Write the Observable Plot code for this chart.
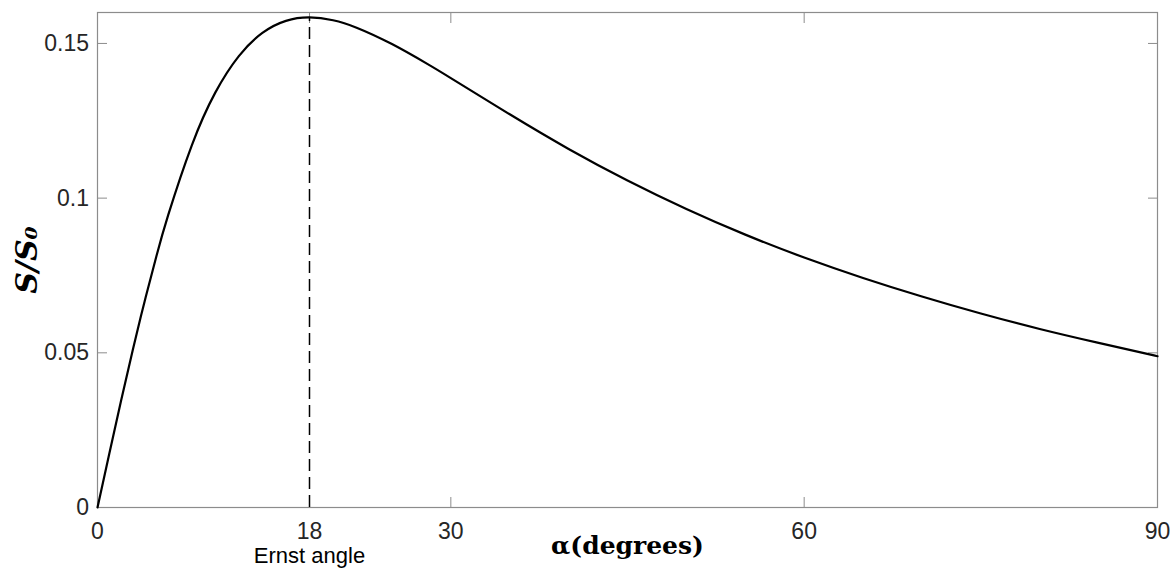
<!DOCTYPE html>
<html>
<head>
<meta charset="utf-8">
<script src="https://cdn.jsdelivr.net/npm/d3@7"></script>
<script src="https://cdn.jsdelivr.net/npm/@observablehq/plot@0.6"></script>
<style>
  html, body { margin: 0; padding: 0; background: #fff; }
  #chart svg { display: block; }
</style>
</head>
<body>
<div id="chart"></div>
<script>
// Flip angle (degrees) and normalised signal
const alphaDeg = [0, 1, 2, 3, 4, 5, 6, 8, 10, 12, 14, 16, 18, 20, 22, 25, 28, 30, 35, 40, 45, 50, 55, 60, 65, 70, 75, 80, 85, 90];
const signal = [0, 0.0174, 0.0345, 0.0510, 0.0666, 0.0812, 0.0945, 0.1170, 0.1341, 0.1459, 0.1534, 0.1573, 0.1584, 0.1575, 0.1551, 0.1498, 0.1434, 0.1388, 0.1271, 0.1159, 0.1057, 0.0965, 0.0882, 0.0808, 0.0742, 0.0682, 0.0627, 0.0577, 0.0532, 0.0489];
const ernstAngle = 18;
const ernstPeak = 0.1584;
const xTicks = [0, 18, 30, 60, 90];
const yTicks = [0, 0.05, 0.1, 0.15];
const yTickLabels = ["0", "0.05", "0.1", "0.15"];

const data = alphaDeg.map((a, i) => ({a, s: signal[i]}));
const axisGray = "#8c8c8c";
const textColor = "#262626";
const sans = "'Liberation Sans', Arial, sans-serif";
const serif = "'DejaVu Serif', serif";

const chart = Plot.plot({
  width: 1170,
  height: 570,
  marginLeft: 97,
  marginRight: 13,
  marginTop: 12,
  marginBottom: 63,
  style: {fontFamily: sans, background: "#fff"},
  x: {domain: [0, 90]},
  y: {domain: [0, 0.16]},
  marks: [
    Plot.frame({stroke: axisGray, strokeWidth: 1.2}),
    Plot.axisX(xTicks, {anchor: "bottom", tickSize: -10, tickPadding: 25, stroke: axisGray, fill: textColor, fontSize: 23, label: null, tickFormat: d => String(d)}),
    Plot.axisX(xTicks, {anchor: "top", tickSize: -10, text: null, stroke: axisGray, label: null}),
    Plot.axisY(yTicks, {anchor: "left", tickSize: -10, tickPadding: 18.5, stroke: axisGray, fill: textColor, fontSize: 23, label: null, tickFormat: d => yTickLabels[yTicks.indexOf(d)]}),
    Plot.axisY(yTicks, {anchor: "right", tickSize: -10, text: null, stroke: axisGray, label: null}),
    Plot.ruleX([ernstAngle], {y1: 0, y2: ernstPeak, stroke: "#000", strokeWidth: 1.5, strokeDasharray: "12,6"}),
    Plot.line(data, {x: "a", y: "s", stroke: "#000", strokeWidth: 2.2, curve: "natural"}),
    Plot.text(["Ernst angle"], {x: ernstAngle, frameAnchor: "bottom", dy: 40, lineAnchor: "top", fontSize: 22, fill: "#000", fontFamily: sans}),
    Plot.text(["α(degrees)"], {frameAnchor: "bottom", dy: 29, lineAnchor: "top", fontSize: 25, fontWeight: "bold", fill: "#000", fontFamily: serif}),
    Plot.text(["S/S₀"], {frameAnchor: "left", dx: -70, rotate: -90, textAnchor: "middle", lineAnchor: "middle", fontSize: 30, fontWeight: "bold", fontStyle: "italic", fill: "#000", fontFamily: serif})
  ]
});
document.getElementById("chart").appendChild(chart);
</script>
</body>
</html>
